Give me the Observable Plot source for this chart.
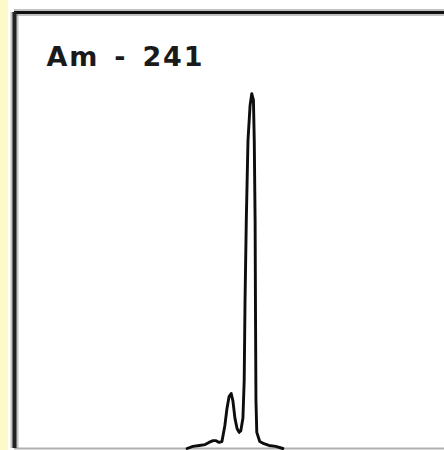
<!DOCTYPE html>
<html>
<head>
<meta charset="utf-8">
<script src="https://cdn.jsdelivr.net/npm/d3@7"></script>
<script src="https://cdn.jsdelivr.net/npm/@observablehq/plot@0.6"></script>
<style>
  html, body { margin: 0; padding: 0; background: #fcfac6; }
  #chart { margin-left: 8px; width: 436px; height: 450px; background: #fff; }
  #chart svg { display: block; background: #fff; }
</style>
</head>
<body>
<div id="chart"></div>
<script>
// Am-241 gamma spectrum (channel vs counts)
const title = "Am - 241";
const channels = [411, 425, 440, 454, 463, 473, 480, 487, 494, 501, 506, 511, 516, 520, 525, 530, 535, 539, 544, 547, 549, 552, 556, 561, 565, 569, 571, 573, 574, 575, 577, 584, 594, 606, 622, 639];
const counts   = [0,   5,   7,   9,   14,  18,  18,  14,  16,  53,  92,  119, 126, 110, 69,  46,  37,  41,  70,  156, 339, 523, 706, 787, 814, 799, 706, 523, 294, 110, 37,  16,  11,  7,   5,   0];
const channelDomain = [0, 1024];
const countDomain = [0, 1000];

const data = channels.map((c, i) => ({channel: c, count: counts[i]}));

const plot = Plot.plot({
  width: 436,
  height: 450,
  marginLeft: 6,
  marginRight: 0,
  marginTop: 12,
  marginBottom: 2,
  x: {domain: channelDomain, axis: null},
  y: {domain: countDomain, axis: null},
  style: {background: "#fff"},
  marks: [
    Plot.ruleY([countDomain[0]], {stroke: "#b0b0b0", strokeWidth: 2}),
    Plot.ruleY([countDomain[1]], {stroke: "#9a9a9a", strokeWidth: 7, strokeOpacity: 0.6}),
    Plot.ruleX([channelDomain[0]], {stroke: "#9a9a9a", strokeWidth: 8, strokeOpacity: 0.6}),
    Plot.ruleY([countDomain[1]], {stroke: "#111", strokeWidth: 3}),
    Plot.ruleX([channelDomain[0]], {stroke: "#222", strokeWidth: 4}),
    Plot.line(data, {x: "channel", y: "count", stroke: "#0d0d0d", strokeWidth: 2.9, strokeLinejoin: "round"}),
    Plot.text([title], {
      frameAnchor: "top-left", textAnchor: "start", lineAnchor: "top",
      dx: 32, dy: 34, fontSize: 27, fontWeight: "bold",
      fontFamily: "DejaVu Sans", fill: "#1a1a1a"
    })
  ]
});
d3.select(plot).selectAll("text")
  .style("word-spacing", "4px").style("letter-spacing", "1.8px");
document.getElementById("chart").appendChild(plot);
</script>
</body>
</html>
